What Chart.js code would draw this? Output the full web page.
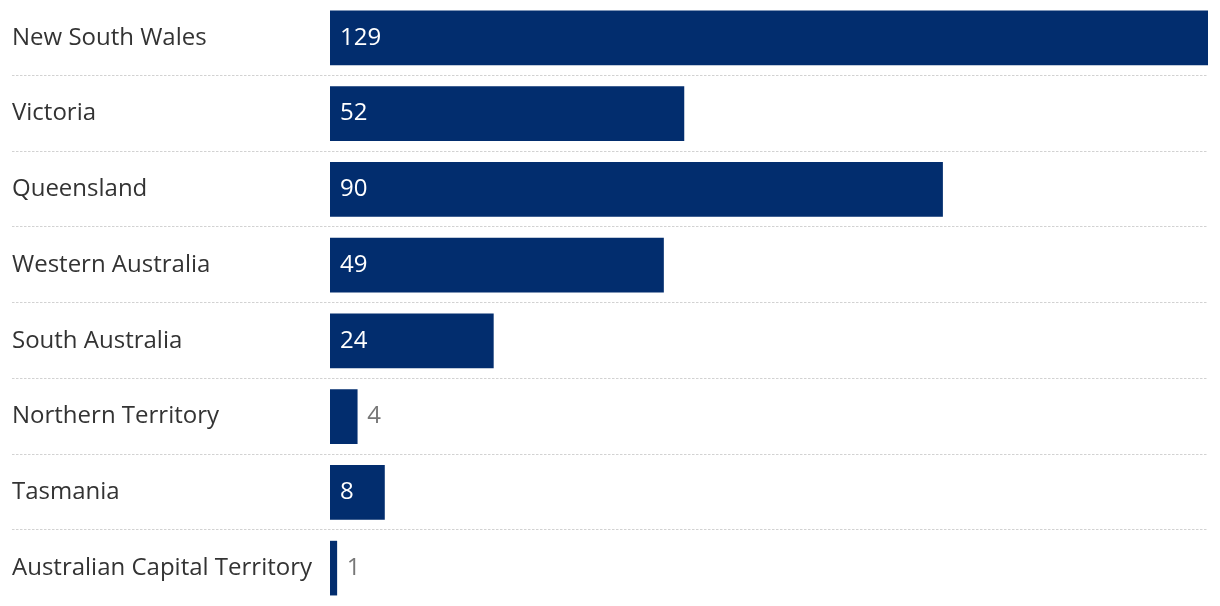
<!DOCTYPE html>
<html>
<head>
<meta charset="utf-8">
<script src="https://cdn.jsdelivr.net/npm/chart.js@4.4.1/dist/chart.umd.min.js"></script>
<style>
  html, body { margin:0; padding:0; background:#fff; }
  #wrap { position:relative; width:1220px; height:606px; }
</style>
</head>
<body>
<div id="wrap"><canvas id="c"></canvas></div>
<script>
// categorías y valores
const states = ["New South Wales","Victoria","Queensland","Western Australia","South Australia","Northern Territory","Tasmania","Australian Capital Territory"];
const counts = [129, 52, 90, 49, 24, 4, 8, 1];

const BAR = "#022d6e";
const FONT = "'Open Sans', 'Noto Sans', sans-serif";

// líneas punteadas entre filas (usa la escala y)
const rowLines = {
  id: "rowLines",
  beforeDatasetsDraw(chart){
    const { ctx, chartArea, scales:{ y } } = chart;
    ctx.save();
    ctx.strokeStyle = "#d2d2d2";
    ctx.lineWidth = 1;
    ctx.setLineDash([2.5, 1.5]);
    for (let i = 0; i < states.length - 1; i++){
      const yy = Math.round((y.getPixelForValue(i) + y.getPixelForValue(i+1)) / 2) - 0.5;
      ctx.beginPath();
      ctx.moveTo(12, yy);
      ctx.lineTo(chartArea.right, yy);
      ctx.stroke();
    }
    ctx.restore();
  }
};

// etiquetas de valor: dentro (blanco) o fuera (gris) según ancho
const valueLabels = {
  id: "valueLabels",
  afterDatasetsDraw(chart){
    const { ctx } = chart;
    const meta = chart.getDatasetMeta(0);
    ctx.save();
    ctx.font = "24px " + FONT;
    ctx.textBaseline = "middle";
    meta.data.forEach((bar, i) => {
      const txt = String(counts[i]);
      const w = ctx.measureText(txt).width;
      const inside = (bar.x - bar.base) > w + 16;
      ctx.fillStyle = inside ? "#fff" : "#777";
      ctx.textAlign = "left";
      ctx.fillText(txt, inside ? bar.base + 10 : bar.x + 10, bar.y);
    });
    ctx.restore();
  }
};

new Chart(document.getElementById("c"), {
  type: "bar",
  data: {
    labels: states,
    datasets: [{
      data: counts,
      backgroundColor: BAR,
      borderWidth: 0,
      barThickness: 54
    }]
  },
  options: {
    indexAxis: "y",
    responsive: true,
    maintainAspectRatio: false,
    animation: false,
    layout: { padding: { left: 12, right: 12, top: 0, bottom: 0 } },
    plugins: { legend: { display: false }, tooltip: { enabled: false } },
    scales: {
      x: { display: false, min: 0, max: Math.max(...counts) },
      y: {
        grid: { display: false },
        border: { display: false },
        ticks: {
          crossAlign: "far",
          color: "#333",
          font: { family: FONT, size: 24 },
          padding: 0
        },
        afterFit(scale){
          scale.width = 318;
          scale.paddingTop = 0;
          scale.paddingBottom = 0;
        }
      }
    }
  },
  plugins: [rowLines, valueLabels]
});
</script>
</body>
</html>
